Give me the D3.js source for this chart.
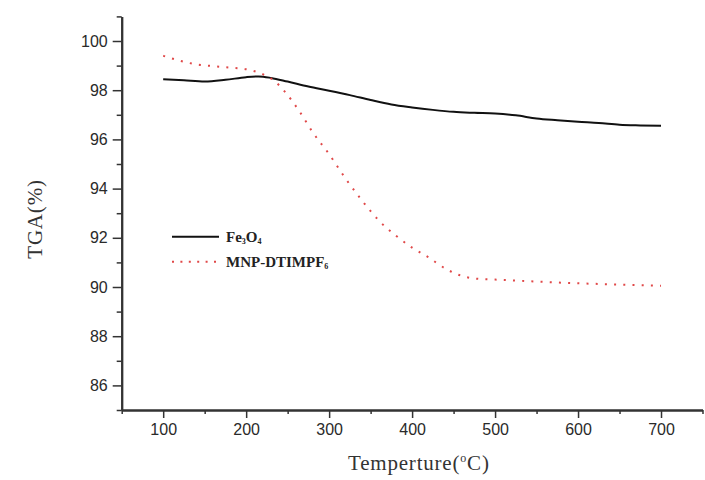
<!DOCTYPE html>
<html>
<head>
<meta charset="utf-8">
<script src="https://cdn.jsdelivr.net/npm/d3@7"></script>
<style>
  html, body { margin: 0; padding: 0; background: #fff; }
  svg { display: block; }
</style>
</head>
<body>
<svg id="chart" width="705" height="480"></svg>
<script>
// temperature samples (°C) and TGA (%)
const feTemp = [100, 125, 150, 175, 200, 215, 230, 250, 275, 300, 325, 350, 375, 400, 425, 450, 475, 500, 525, 550, 575, 600, 625, 650, 675, 700];
const feTga  = [98.45, 98.4, 98.35, 98.42, 98.53, 98.56, 98.5, 98.35, 98.15, 97.98, 97.8, 97.6, 97.42, 97.3, 97.2, 97.12, 97.08, 97.05, 96.98, 96.85, 96.78, 96.72, 96.67, 96.6, 96.57, 96.55];

const mnpTemp = [100, 120, 140, 160, 180, 200, 220, 235, 250, 265, 280, 300, 320, 340, 360, 380, 400, 420, 440, 460, 480, 500, 520, 550, 600, 650, 700];
const mnpTga  = [99.4, 99.2, 99.05, 98.98, 98.92, 98.85, 98.65, 98.35, 97.8, 97.1, 96.3, 95.4, 94.4, 93.5, 92.7, 92.1, 91.6, 91.2, 90.75, 90.45, 90.33, 90.3, 90.27, 90.22, 90.15, 90.1, 90.05];

const xMajor = [100, 200, 300, 400, 500, 600, 700];
const xMinor = [50, 150, 250, 350, 450, 550, 650, 750];
const yMajor = [86, 88, 90, 92, 94, 96, 98, 100];
const yMinor = [85, 87, 89, 91, 93, 95, 97, 99, 101];

const svg = d3.select("#chart");
const axisColor = "#333";

const x = d3.scaleLinear().domain([50, 750]).range([121.7, 702.5]);
const y = d3.scaleLinear().domain([85, 101]).range([410, 16.4]);

// axes (minor and major ticks in their own groups)
const xAt = `translate(0,${y(85)})`;
const yAt = `translate(${x(50)},0)`;
svg.append("g").attr("transform", xAt)
  .call(d3.axisBottom(x).tickValues(xMinor).tickSize(4).tickSizeOuter(0).tickFormat(""));
svg.append("g").attr("transform", xAt)
  .call(d3.axisBottom(x).tickValues(xMajor).tickSize(8).tickSizeOuter(0).tickPadding(6));
svg.append("g").attr("transform", yAt)
  .call(d3.axisLeft(y).tickValues(yMinor).tickSize(5).tickSizeOuter(0).tickFormat(""));
svg.append("g").attr("transform", yAt)
  .call(d3.axisLeft(y).tickValues(yMajor).tickSize(9).tickSizeOuter(0).tickPadding(5));

svg.selectAll(".domain").attr("stroke", axisColor).attr("stroke-width", 2);
svg.selectAll(".tick line").attr("stroke", axisColor).attr("stroke-width", 1.5);
svg.selectAll(".tick text")
  .attr("fill", "#2a2a2a")
  .style("font-family", "'Liberation Sans', Arial, sans-serif")
  .style("font-size", "16px");

// curves
const line = d3.line().x(d => x(d[0])).y(d => y(d[1])).curve(d3.curveMonotoneX);

svg.append("path")
  .datum(d3.zip(feTemp, feTga))
  .attr("d", line)
  .attr("fill", "none")
  .attr("stroke", "#111")
  .attr("stroke-width", 2);

svg.append("path")
  .datum(d3.zip(mnpTemp, mnpTga))
  .attr("d", line)
  .attr("fill", "none")
  .attr("stroke", "#e04848")
  .attr("stroke-width", 2)
  .attr("stroke-dasharray", "2,7.2");

// legend
const legend = svg.append("g").style("font-family", "'Liberation Serif', 'Times New Roman', serif")
  .style("font-weight", "bold").attr("fill", "#222");

legend.append("line").attr("x1", 172).attr("x2", 219).attr("y1", 236.7).attr("y2", 236.7)
  .attr("stroke", "#111").attr("stroke-width", 2);
legend.append("line").attr("x1", 172).attr("x2", 220).attr("y1", 261.7).attr("y2", 261.7)
  .attr("stroke", "#e04848").attr("stroke-width", 2).attr("stroke-dasharray", "2,6.4");

const t1 = legend.append("text").attr("x", 226).attr("y", 242).style("font-size", "15px");
t1.append("tspan").text("Fe");
t1.append("tspan").attr("dy", 2).style("font-size", "8px").text("3");
t1.append("tspan").attr("dy", -2).text("O");
t1.append("tspan").attr("dy", 2).style("font-size", "8px").text("4");

const t2 = legend.append("text").attr("x", 226).attr("y", 267).style("font-size", "15px");
t2.append("tspan").text("MNP-DTIMPF");
t2.append("tspan").attr("dy", 2).style("font-size", "8px").text("6");

// axis titles
const xt = svg.append("text")
  .attr("x", 348).attr("y", 470)
  .attr("fill", "#333")
  .style("font-family", "'Liberation Serif', 'Times New Roman', serif")
  .style("font-size", "21px")
  .style("letter-spacing", "0.8px");
xt.append("tspan").text("Temperture(");
xt.append("tspan").attr("dy", -8).style("font-size", "12px").text("o");
xt.append("tspan").attr("dy", 8).text("C)");

svg.append("text")
  .attr("transform", "translate(42,219) rotate(-90)")
  .attr("text-anchor", "middle")
  .attr("fill", "#333")
  .style("font-family", "'Liberation Serif', 'Times New Roman', serif")
  .style("font-size", "21px")
  .style("letter-spacing", "0.8px")
  .text("TGA(%)");
</script>
</body>
</html>
